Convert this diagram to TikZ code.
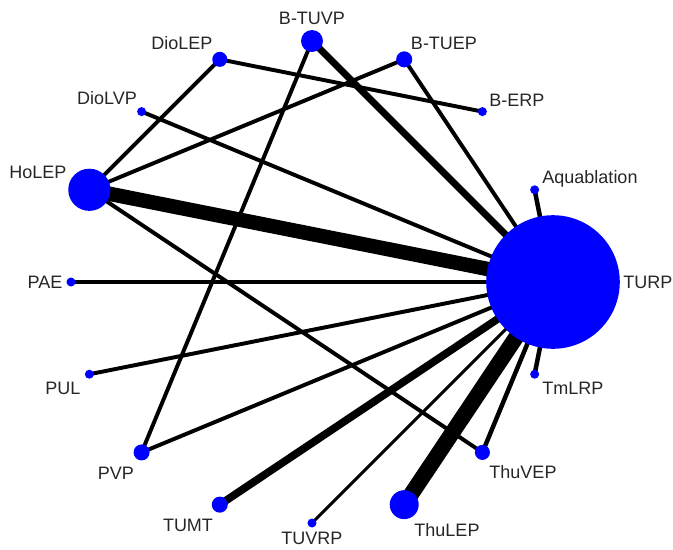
\documentclass[tikz,border=0pt]{standalone}
\usepackage{fontspec}
\setmainfont{Liberation Sans}
\usetikzlibrary{backgrounds}
\tikzset{trt/.style = {fill=blue, circle, inner sep = 0, minimum size = #1}}
\tikzset{lbl/.style = {inner sep = 0, text=black!85, font=\fontsize{12.8}{15}\selectfont}}
\tikzset{arm/.style = {line width = #1}}

\begin{document}
\begin{tikzpicture}[x=0.025cm, y=0.025cm]
      \useasboundingbox (-312, -267) rectangle (361, 282);
      % treatments on a circle
      \node [trt=95pt] (TURP) at (0:241) {};
      \node [trt=6.4pt] (Aqua) at (22.5:241) {};
      \node [trt=6.4pt] (BERP) at (45:241) {};
      \node [trt=11.4pt] (BTUEP) at (67.5:241) {};
      \node [trt=15.6pt] (BTUVP) at (90:241) {};
      \node [trt=10.7pt] (DioLEP) at (112.5:241) {};
      \node [trt=6.4pt] (DioLVP) at (135:241) {};
      \node [trt=30pt] (HoLEP) at (157.5:241) {};
      \node [trt=6.4pt] (PAE) at (180:241) {};
      \node [trt=6.4pt] (PUL) at (202.5:241) {};
      \node [trt=11.4pt] (PVP) at (225:241) {};
      \node [trt=11.4pt] (TUMT) at (247.5:241) {};
      \node [trt=6.4pt] (TUVRP) at (270:241) {};
      \node [trt=20.6pt] (ThuLEP) at (292.5:241) {};
      \node [trt=10.7pt] (ThuVEP) at (315:241) {};
      \node [trt=6.4pt] (TmLRP) at (337.5:241) {};
      % comparisons
      \begin{scope}[on background layer]
        \draw [arm=10.3pt] (HoLEP.center) -- (TURP.center);
        \draw [arm=11.2pt] (ThuLEP.center) -- (TURP.center);
        \draw [arm=5pt] (BTUVP.center) -- (TURP.center);
        \draw [arm=5.5pt] (TUMT.center) -- (TURP.center);
        \draw [arm=2.8pt] (BTUVP.center) -- (PVP.center);
        \draw [arm=2.8pt] (DioLEP.center) -- (HoLEP.center);
        \draw [arm=2.8pt] (DioLEP.center) -- (BERP.center);
        \draw [arm=2.8pt] (BTUEP.center) -- (HoLEP.center);
        \draw [arm=2.8pt] (BTUEP.center) -- (TURP.center);
        \draw [arm=2.8pt] (DioLVP.center) -- (TURP.center);
        \draw [arm=2.8pt] (HoLEP.center) -- (ThuVEP.center);
        \draw [arm=2.8pt] (PAE.center) -- (TURP.center);
        \draw [arm=2.8pt] (PUL.center) -- (TURP.center);
        \draw [arm=2.8pt] (PVP.center) -- (TURP.center);
        \draw [arm=3.2pt] (ThuVEP.center) -- (TURP.center);
        \draw [arm=3.2pt] (TmLRP.center) -- (TURP.center);
        \draw [arm=3.2pt] (Aqua.center) -- (TURP.center);
        \draw [arm=2.1pt] (TUVRP.center) -- (TURP.center);
      \end{scope}
      % names
      \node [lbl] (lTURP) at (336, 0) {TURP};
      \node [lbl] (lAqua) at (278, 103) {Aquablation};
      \node [lbl] (lBERP) at (205, 182) {B-ERP};
      \node [lbl] (lBTUEP) at (132, 239) {B-TUEP};
      \node [lbl] (lBTUVP) at (0, 264) {B-TUVP};
      \node [lbl] (lDioLEP) at (-130, 239) {DioLEP};
      \node [lbl] (lDioLVP) at (-205, 184) {DioLVP};
      \node [lbl] (lHoLEP) at (-274, 110) {HoLEP};
      \node [lbl] (lPAE) at (-267, 0) {PAE};
      \node [lbl] (lPUL) at (-249, -106) {PUL};
      \node [lbl] (lPVP) at (-196, -191) {PVP};
      \node [lbl] (lTUMT) at (-124, -243) {TUMT};
      \node [lbl] (lTUVRP) at (0, -256) {TUVRP};
      \node [lbl] (lThuLEP) at (135, -248) {ThuLEP};
      \node [lbl] (lThuVEP) at (211, -190) {ThuVEP};
      \node [lbl] (lTmLRP) at (261, -106) {TmLRP};
    \end{tikzpicture}
\end{document}
